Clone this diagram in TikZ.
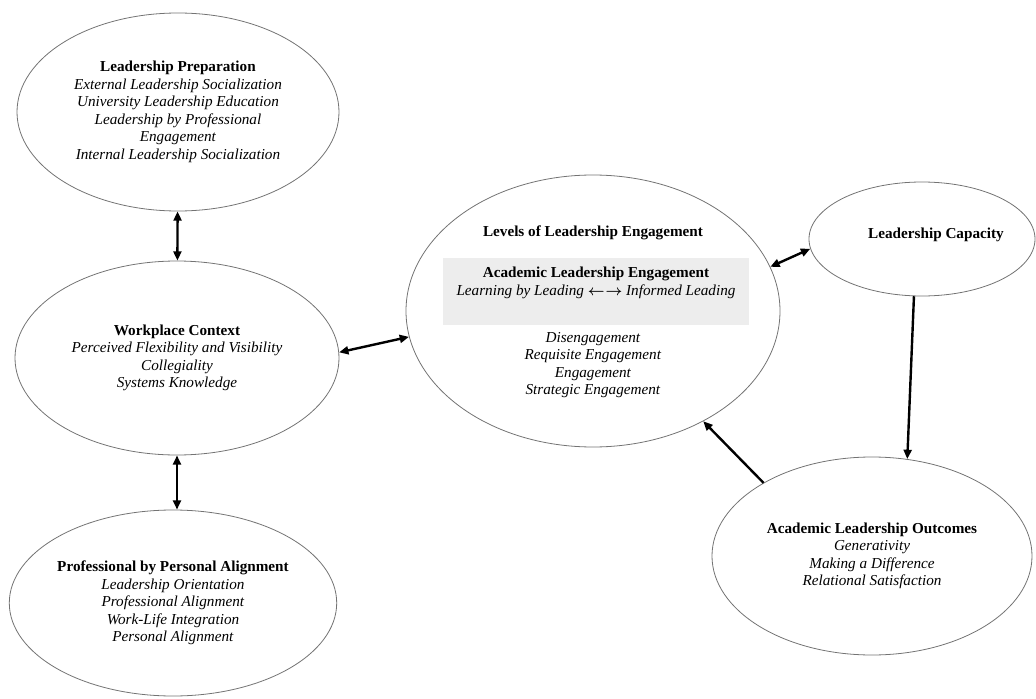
\documentclass[tikz,border=0pt]{standalone}
\usepackage{fontspec}
\setmainfont{Liberation Serif}
\usetikzlibrary{shapes.geometric,arrows.meta}

\begin{document}
\begin{tikzpicture}[x=0.75pt, y=-0.75pt,
		bubble/.style={ellipse, draw=black!55, line width=0.6pt, inner sep=0pt, align=center, font=\fontsize{11.4}{13.1}\selectfont},
		txt/.style={align=center, inner sep=0pt, font=\fontsize{11.4}{13.1}\selectfont},
		both/.style={{Triangle[length=7pt,width=6pt]}-{Triangle[length=7pt,width=6pt]}, line width=1.8pt},
		oneway/.style={-{Triangle[length=7pt,width=6pt]}, line width=1.8pt}]
		
		\useasboundingbox (0,0) rectangle (1036,699);
		
		% Left column
		\node[bubble, minimum width=241.5pt, minimum height=148.5pt] (prep) at (178,112) {\textbf{Leadership Preparation}\\ \textit{External Leadership Socialization}\\ \textit{University Leadership Education}\\ \textit{Leadership by Professional}\\ \textit{Engagement}\\ \textit{Internal Leadership Socialization}};
		\node[bubble, minimum width=243pt, minimum height=145.5pt] (work) at (177,358) {\textbf{Workplace Context}\\ \textit{Perceived Flexibility and Visibility}\\ \textit{Collegiality}\\ \textit{Systems Knowledge}};
		\node[bubble, minimum width=242pt, minimum height=139.5pt] (prof) at (173,603) {\textbf{Professional by Personal Alignment}\\ \textit{Leadership Orientation}\\ \textit{Professional Alignment}\\ \textit{Work-Life Integration}\\ \textit{Personal Alignment}};
		
		% Centre
		\node[bubble, minimum width=280.5pt, minimum height=204pt] (lle) at (593,311) {};
		\node[txt] (lletitle) at (593,233) {\textbf{Levels of Leadership Engagement}};
		\node[fill=black!7, minimum width=230pt, minimum height=50pt, inner sep=0pt] (ale) at (596,291.5) {};
		\node[txt] (aletext) at (596,283) {\textbf{Academic Leadership Engagement}\\ \textit{Learning by Leading} {\boldmath$\leftarrow\mkern1mu\rightarrow$} \textit{Informed Leading}};
		\node[txt] (levels) at (593,365) {\textit{Disengagement}\\ \textit{Requisite Engagement}\\ \textit{Engagement}\\ \textit{Strategic Engagement}};
		
		% Right side
		\node[bubble, minimum width=169.5pt, minimum height=85.5pt] (cap) at (922,239) {};
		\node[txt] (captext) at (936,235) {\textbf{Leadership Capacity}};
		\node[bubble, minimum width=240pt, minimum height=148.5pt] (out) at (872,556) {\textbf{Academic Leadership Outcomes}\\ \textit{Generativity}\\ \textit{Making a Difference}\\ \textit{Relational Satisfaction}};
		
		% Connect
		\draw[both] (prep) -- (work);
		\draw[both] (work.south) -- (work.south |- prof.north);
		\draw[both] (work.2) -- (lle.188);
		\draw[both] (lle.14) -- (cap.185);
		\draw[oneway] (cap.262) -- (out.70);
		\draw[oneway] (out.146) -- (lle.315);
		
	\end{tikzpicture}
\end{document}
